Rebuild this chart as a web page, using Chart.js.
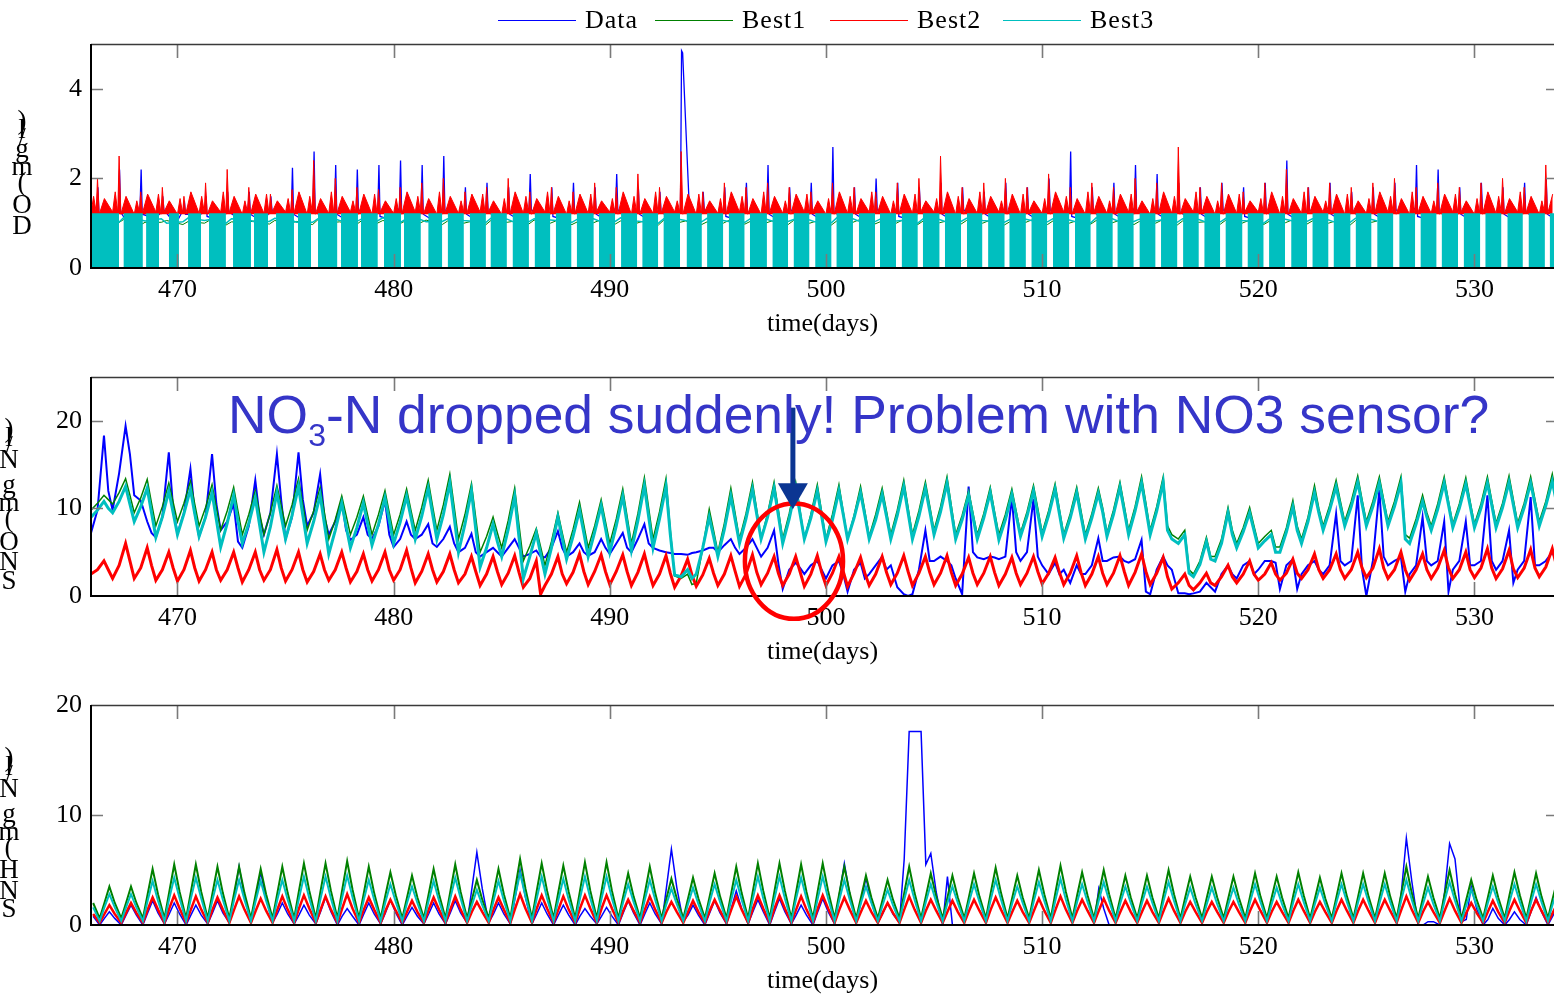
<!DOCTYPE html>
<html>
<head>
<meta charset="utf-8">
<title>Sensor check: DO, SNO, SNH</title>
<script src="https://cdn.jsdelivr.net/npm/chart.js@4.4.1/dist/chart.umd.min.js"></script>
<style>
  html, body { margin: 0; padding: 0; background: #fff; }
  body { position: relative; width: 1554px; height: 995px; overflow: hidden; font-family: "Liberation Serif", serif; }
  canvas { position: absolute; left: 0; }
  #legend { position: absolute; left: 0; top: 0; width: 1554px; height: 40px; z-index: 2; }
  #legend .key { position: absolute; top: 6px; height: 28px; display: flex; align-items: center; font-size: 26px; letter-spacing: 1px; white-space: nowrap; color: #000; }
  #legend .key i { display: inline-block; width: 78px; height: 1px; margin-right: 9px; }
</style>
</head>
<body>
<canvas id="doChart" width="1554" height="337" style="top:0"></canvas>
<canvas id="snoChart" width="1554" height="328" style="top:337px"></canvas>
<canvas id="snhChart" width="1554" height="329" style="top:665px"></canvas>
<div id="legend"></div>
<script>
/* Three stacked panels: measured data vs. three best model fits.
 * Series are stored per day (first day 466) with a few samples each;
 * the offsets arrays say where in the day each sample sits. */

const FIRST_DAY = 466;
const X_MIN = 466;
const X_MAX = 533.68;
const X_TICKS = [470, 480, 490, 500, 510, 520, 530];
const DO_TICKS = [0, 2, 4];
const SNO_TICKS = [0, 10, 20];
const SNH_TICKS = [0, 10, 20];
const SERIES = ["Data", "Best1", "Best2", "Best3"];

// ---- DO (mg/l) ----
const DO_LEVEL_OFFSETS = [0.25, 0.5];
const DO_RED_OFFSETS = [0, 0.12, 0.24, 0.3, 0.38, 0.62];
const DO_BLUE_OFFSETS = [0.05, 0.27, 0.32, 0.37, 0.7];
const DO_SWITCH_LEVEL = 1.22;
const DO_SWITCH_ON = [466.0, 467.5, 468.55, 469.6, 470.49, 471.46, 472.57, 473.54, 474.56, 475.57, 476.5, 477.56, 478.49, 479.55, 480.48, 481.6,
  482.5, 483.52, 484.48, 485.5, 486.52, 487.5, 488.47, 489.5, 490.52, 491.5, 492.48, 493.55, 494.5, 495.5, 496.48, 497.52, 498.5,
  499.5, 500.48, 501.52, 502.5, 503.5, 504.48, 505.5, 506.52, 507.5, 508.48, 509.5, 510.5, 511.52, 512.5, 513.48, 514.5, 515.5,
  516.52, 517.5, 518.48, 519.5, 520.5, 521.52, 522.5, 523.48, 524.5, 525.5, 526.52, 527.5, 528.48, 529.5, 530.5, 531.52, 532.5, 533.48];
const DO_SWITCH_OFF = [467.3, 468.4, 469.15, 470.07, 471.09, 472.24, 473.4, 474.19, 475.39, 476.18, 477.4, 478.35, 479.27, 480.34, 481.26, 482.25,
  483.25, 484.27, 485.24, 486.26, 487.25, 488.23, 489.26, 490.25, 491.27, 492.24, 493.25, 494.26, 495.25, 496.24, 497.27, 498.25, 499.24,
  500.26, 501.25, 502.27, 503.24, 504.25, 505.26, 506.25, 507.24, 508.27, 509.25, 510.24, 511.26, 512.25, 513.27, 514.24, 515.25, 516.26,
  517.25, 518.24, 519.27, 520.25, 521.24, 522.26, 523.25, 524.27, 525.24, 526.25, 527.26, 528.25, 529.24, 530.27, 531.25, 532.24, 533.26, 533.7];
const DO_DATA = [
  1.1,1.3,1.8,1.2,1.1, 1.2,1.3,2.2,1.25,1.0, 1.1,1.35,2.2,1.2,1.15, 1.15,1.25,1.6,1.3,1.1,
  1.1,1.3,1.5,1.2,1.2, 1.2,1.25,1.6,1.15,1.1, 1.1,1.3,1.7,1.25,1.15, 1.15,1.35,1.7,1.2,1.1,
  1.1,1.25,1.6,1.3,1.2, 1.2,1.3,2.24,1.2,1.1, 1.1,1.35,2.6,1.25,1.15, 1.15,1.3,2.3,1.2,1.1,
  1.1,1.25,2.2,1.3,1.2, 1.2,1.3,2.3,1.15,1.1, 1.1,1.35,2.4,1.25,1.15, 1.15,1.3,2.3,1.2,1.1,
  1.1,1.3,2.5,1.3,1.2, 1.2,1.25,1.8,1.2,1.1, 1.1,1.3,1.9,1.25,1.15, 1.15,1.3,1.8,1.2,1.1,
  1.1,1.35,2.1,1.3,1.2, 1.2,1.25,1.8,1.15,1.1, 1.1,1.3,1.9,1.25,1.15, 1.15,1.3,1.8,1.2,1.1,
  1.1,1.35,2.1,1.3,1.2, 1.2,1.25,1.8,1.2,1.1, 1.1,1.3,1.7,1.25,1.15, 1.15,1.3,4.85,4.8,1.1,
  1.1,1.25,1.7,1.3,1.2, 1.2,1.3,1.8,1.15,1.1, 1.1,1.3,1.9,1.25,1.15, 1.15,1.35,2.3,1.2,1.1,
  1.1,1.25,1.8,1.3,1.2, 1.2,1.3,1.9,1.2,1.1, 1.1,1.35,2.7,1.25,1.15, 1.15,1.3,1.8,1.2,1.1,
  1.1,1.3,2.0,1.3,1.2, 1.2,1.25,1.9,1.15,1.1, 1.1,1.3,1.8,1.25,1.15, 1.15,1.3,1.9,1.2,1.1,
  1.1,1.25,1.8,1.3,1.2, 1.2,1.3,1.7,1.2,1.1, 1.1,1.3,1.9,1.25,1.15, 1.15,1.25,1.8,1.2,1.1,
  1.1,1.35,2.0,1.3,1.2, 1.2,1.35,2.6,1.15,1.1, 1.1,1.3,1.8,1.25,1.15, 1.15,1.3,1.9,1.2,1.1,
  1.1,1.35,2.3,1.3,1.2, 1.2,1.3,2.1,1.2,1.1, 1.1,1.3,1.9,1.25,1.15, 1.15,1.25,1.8,1.2,1.1,
  1.1,1.3,1.9,1.3,1.2, 1.2,1.25,1.8,1.15,1.1, 1.1,1.3,1.9,1.25,1.15, 1.15,1.35,2.4,1.2,1.1,
  1.1,1.3,1.8,1.3,1.2, 1.2,1.3,1.9,1.2,1.1, 1.1,1.25,1.7,1.25,1.15, 1.15,1.3,1.8,1.2,1.1,
  1.1,1.3,1.9,1.3,1.2, 1.2,1.35,2.3,1.15,1.1, 1.1,1.35,2.2,1.25,1.15, 1.15,1.3,1.8,1.2,1.1,
  1.1,1.3,1.9,1.3,1.2, 1.2,1.25,1.8,1.2,1.1, 1.1,1.3,1.9,1.25,1.15, 1.15,1.3,2.0,1.2,1.1];
const DO_BEST1 = [
  0.98,1.05, 1.0,1.08, 0.95,1.02, 1.02,1.06, 0.97,1.04, 1.0,1.07, 0.96,1.03, 1.01,1.05,
  0.98,1.06, 1.0,1.04, 0.97,1.08, 1.02,1.03, 0.96,1.05, 1.0,1.06, 0.98,1.04, 1.01,1.07,
  0.97,1.05, 1.0,1.03, 0.96,1.06, 1.02,1.04, 0.98,1.07, 1.0,1.05, 0.97,1.03, 1.01,1.06,
  0.98,1.05, 1.0,1.04, 0.96,1.07, 1.02,1.05, 0.97,1.03, 1.0,1.06, 0.98,1.04, 1.01,1.05,
  0.97,1.06, 1.0,1.04, 0.96,1.05, 1.02,1.07, 0.98,1.03, 1.0,1.06, 0.97,1.05, 1.01,1.04,
  0.98,1.06, 1.0,1.05, 0.96,1.03, 1.02,1.07, 0.97,1.05, 1.0,1.04, 0.98,1.06, 1.01,1.05,
  0.97,1.04, 1.0,1.06, 0.96,1.05, 1.02,1.03, 0.98,1.07, 1.0,1.05, 0.97,1.04, 1.01,1.06,
  0.98,1.05, 1.0,1.04, 0.96,1.06, 1.02,1.05];
const DO_BEST2 = [
  1.22,1.6,1.25,2.0,1.2,1.55, 1.25,1.7,1.22,2.5,1.2,1.6, 1.2,1.5,1.25,1.7,1.22,1.65, 1.25,1.65,1.2,1.8,1.25,1.5,
  1.2,1.55,1.22,1.6,1.2,1.7, 1.22,1.6,1.25,1.9,1.2,1.5, 1.25,1.7,1.2,2.2,1.22,1.6, 1.2,1.5,1.25,1.8,1.2,1.65,
  1.22,1.65,1.2,1.65,1.25,1.5, 1.25,1.55,1.22,1.75,1.2,1.7, 1.2,1.6,1.25,2.4,1.2,1.55, 1.22,1.7,1.2,2.0,1.22,1.6,
  1.25,1.5,1.25,1.8,1.2,1.65, 1.2,1.65,1.2,1.75,1.25,1.5, 1.22,1.55,1.22,1.8,1.2,1.7, 1.25,1.6,1.25,1.9,1.2,1.55,
  1.2,1.7,1.2,2.0,1.22,1.6, 1.22,1.5,1.25,1.7,1.2,1.65, 1.25,1.65,1.2,1.8,1.25,1.5, 1.2,1.55,1.22,2.0,1.2,1.7,
  1.22,1.6,1.25,1.7,1.2,1.55, 1.25,1.7,1.2,1.8,1.22,1.6, 1.2,1.5,1.25,1.7,1.2,1.65, 1.22,1.65,1.2,1.9,1.25,1.5,
  1.25,1.55,1.22,1.8,1.2,1.7, 1.2,1.6,1.25,2.1,1.2,1.55, 1.22,1.7,1.2,1.8,1.22,1.6, 1.25,1.5,1.25,2.6,1.2,1.65,
  1.2,1.65,1.2,1.7,1.25,1.5, 1.22,1.55,1.22,1.9,1.2,1.7, 1.25,1.6,1.25,1.8,1.2,1.55, 1.2,1.7,1.2,1.9,1.22,1.6,
  1.22,1.5,1.25,1.8,1.2,1.65, 1.25,1.65,1.2,1.7,1.25,1.5, 1.2,1.55,1.22,1.9,1.2,1.7, 1.22,1.6,1.25,1.8,1.2,1.55,
  1.25,1.7,1.2,1.7,1.22,1.6, 1.2,1.5,1.25,1.9,1.2,1.65, 1.22,1.65,1.2,2.0,1.25,1.5, 1.25,1.55,1.22,2.5,1.2,1.7,
  1.2,1.6,1.25,1.8,1.2,1.55, 1.22,1.7,1.2,1.9,1.22,1.6, 1.25,1.5,1.25,2.0,1.2,1.65, 1.2,1.65,1.2,1.8,1.25,1.5,
  1.22,1.55,1.22,2.1,1.2,1.7, 1.25,1.6,1.25,1.8,1.2,1.55, 1.2,1.7,1.2,1.9,1.22,1.6, 1.22,1.5,1.25,1.8,1.2,1.65,
  1.25,1.65,1.2,2.0,1.25,1.5, 1.2,1.55,1.22,1.9,1.2,1.7, 1.22,1.6,1.25,2.7,1.2,1.55, 1.25,1.7,1.2,1.8,1.22,1.6,
  1.2,1.5,1.25,1.9,1.2,1.65, 1.22,1.65,1.2,1.7,1.25,1.5, 1.25,1.55,1.22,1.9,1.2,1.7, 1.2,1.6,1.25,2.2,1.2,1.55,
  1.22,1.7,1.2,1.8,1.22,1.6, 1.25,1.5,1.25,1.9,1.2,1.65, 1.2,1.65,1.2,1.8,1.25,1.5, 1.22,1.55,1.22,1.9,1.2,1.7,
  1.25,1.6,1.25,2.0,1.2,1.55, 1.2,1.7,1.2,1.8,1.22,1.6, 1.22,1.5,1.25,1.9,1.2,1.65, 1.25,1.65,1.2,1.8,1.25,1.5,
  1.2,1.55,1.22,1.9,1.2,1.7, 1.22,1.6,1.25,2.0,1.2,1.55, 1.25,1.7,1.2,1.8,1.22,1.6, 1.2,1.5,1.25,2.3,1.2,1.65];
const DO_BEST3 = [
  1.05,1.1, 1.0,1.12, 1.08,1.05, 1.1,1.0, 1.03,1.12, 1.06,1.08, 1.0,1.1, 1.09,1.04,
  1.04,1.11, 1.07,1.02, 1.02,1.1, 1.1,1.06, 1.03,1.09, 1.05,1.12, 1.0,1.07, 1.08,1.03,
  1.04,1.1, 1.06,1.05, 1.01,1.11, 1.09,1.04, 1.03,1.1, 1.07,1.06, 1.02,1.09, 1.1,1.05,
  1.04,1.12, 1.05,1.03, 1.0,1.1, 1.08,1.06, 1.03,1.11, 1.06,1.04, 1.02,1.1, 1.09,1.05,
  1.04,1.08, 1.07,1.03, 1.01,1.12, 1.1,1.05, 1.03,1.09, 1.05,1.06, 1.0,1.1, 1.08,1.04,
  1.04,1.11, 1.06,1.05, 1.02,1.08, 1.09,1.06, 1.03,1.1, 1.07,1.04, 1.01,1.12, 1.1,1.05,
  1.04,1.09, 1.05,1.07, 1.02,1.1, 1.08,1.04, 1.03,1.11, 1.06,1.05, 1.0,1.09, 1.09,1.06,
  1.04,1.1, 1.07,1.03, 1.02,1.11, 1.08,1.05];

// ---- SNO (mg N/l) ----
const SNO_OFFSETS = [0, 0.3, 0.6, 0.8];
const SNO_DATA = [
  7.2,9.8,18.3,12.0, 9.8,14.0,19.4,16.2, 11.5,10.9,8.5,7.2, 6.7,9.0,16.4,10.0,
  7.1,9.5,14.5,9.5, 6.8,9.0,16.2,10.5, 7.5,8.5,10.5,6.2, 5.5,8.0,13.2,9.0,
  7.0,9.5,16.2,10.9, 6.5,9.0,16.4,11.0, 8.0,9.5,13.9,9.0, 7.0,8.5,10.9,7.5,
  6.4,7.0,9.0,7.0, 6.5,8.0,10.9,7.0, 5.6,6.5,8.5,7.0, 6.5,7.0,8.2,6.0,
  5.6,6.5,7.9,6.0, 5.0,5.5,7.1,5.0, 4.5,5.0,5.5,5.0, 4.5,5.5,6.5,5.5,
  4.5,4.8,5.2,4.5, 4.4,5.5,7.4,5.5, 4.5,5.0,6.0,5.0, 4.6,5.0,6.5,5.5,
  4.8,6.0,7.2,5.5, 5.0,6.5,8.2,6.0, 5.5,5.2,5.0,4.9, 4.8,4.8,4.7,4.9,
  5.0,5.2,5.5,5.5, 5.0,5.8,6.5,5.5, 4.8,5.5,6.5,5.5, 4.5,5.5,7.5,3.7,
  0.8,3.0,3.8,3.2, 2.5,3.5,4.0,3.0, 2.0,3.5,4.0,2.5, 0.5,3.0,3.8,2.0,
  2.5,3.5,4.5,3.0, 3.5,1.0,0.2,0.0, 0.2,3.0,7.5,4.0, 4.0,4.5,4.0,3.5,
  2.0,0.2,12.5,5.0, 4.4,4.2,4.5,4.4, 4.2,4.5,11.3,5.0, 4.0,5.0,11.1,4.5,
  3.5,2.5,3.8,2.5, 3.0,1.5,3.5,2.5, 2.5,3.5,6.6,4.0, 4.0,4.4,4.5,4.0,
  3.8,4.2,6.4,0.5, 0.2,3.0,4.5,3.5, 3.0,0.3,0.3,0.2, 0.3,0.5,1.5,1.0,
  0.5,2.5,3.5,2.5, 2.0,3.5,4.0,2.5, 3.0,4.0,4.0,3.8, 0.8,3.5,4.2,0.8,
  2.5,3.5,4.0,3.0, 2.5,3.5,9.4,4.0, 3.5,4.0,11.5,3.0, 0.0,4.0,12.1,4.5,
  3.5,4.0,4.4,0.5, 2.5,3.5,9.0,4.0, 3.5,4.0,8.5,0.5, 3.0,4.0,8.5,3.5,
  3.5,4.0,11.5,4.0, 3.0,4.0,7.5,1.5, 3.0,4.0,11.3,3.5, 3.5,4.0,5.0,4.0];
const SNO_BEST1 = [
  9.8,10.6,11.5,11.0, 10.5,11.8,13.4,11.5, 9.5,11.2,13.3,10.6, 8.0,10.2,12.9,10.7,
  8.5,10.6,13.1,10.5, 8.0,10.1,12.7,10.1, 7.5,9.7,12.4,9.7, 7.0,9.3,12.0,9.5,
  7.0,9.5,12.6,10.3, 8.0,10.4,13.4,10.4, 7.5,9.7,12.4,9.5, 6.5,8.7,11.4,9.2,
  7.0,9.0,11.4,9.2, 7.0,9.3,12.0,9.5, 7.0,9.3,12.2,9.8, 7.5,10.1,13.2,10.3,
  7.5,10.4,13.9,10.2, 6.5,9.3,12.8,8.9, 5.0,6.8,9.0,7.2, 5.5,8.6,12.3,8.1,
  4.0,5.7,7.7,5.6, 3.5,6.2,9.5,7.2, 5.0,7.6,10.7,8.1, 5.5,8.0,11.0,8.5,
  6.0,8.8,12.2,9.1, 6.0,9.4,13.5,10.0, 6.5,9.6,13.4,7.5, 2.3,2.0,2.5,1.3,
  1.5,5.5,9.9,7.5, 5.0,8.3,12.3,9.4, 6.5,9.4,13.0,9.8, 6.5,9.4,13.0,9.8,
  6.5,9.4,13.0,9.8, 6.5,9.3,12.7,9.6, 6.5,9.3,12.7,9.6, 6.5,9.2,12.5,9.7,
  6.8,9.3,12.3,9.7, 7.0,9.8,13.2,10.1, 7.0,9.7,13.0,10.3, 7.5,10.2,13.6,10.3,
  7.0,9.2,12.0,9.5, 7.0,9.4,12.4,9.6, 7.0,9.3,12.2,9.7, 7.2,9.6,12.6,10.0,
  7.2,9.7,12.8,9.9, 7.0,9.4,12.4,9.7, 7.0,9.4,12.3,10.1, 7.2,9.8,13.0,10.3,
  7.5,10.2,13.6,10.6, 7.5,10.2,13.6,8.0, 7.0,6.5,7.5,3.0, 2.5,4.0,6.7,4.5,
  4.5,6.5,10.1,7.5, 6.0,7.8,10.1,8.0, 6.0,6.8,7.5,5.6, 5.6,7.8,10.9,8.0,
  6.5,9.0,12.6,10.0, 8.0,10.3,13.2,10.8, 8.5,10.8,13.7,11.0, 8.5,10.8,13.6,11.0,
  8.5,10.8,13.6,7.0, 6.6,8.8,11.5,9.5, 8.0,10.5,13.6,10.8, 8.2,10.5,13.5,10.8,
  8.2,10.5,13.6,10.9, 8.3,10.6,13.7,11.0, 8.3,10.6,13.6,11.0, 8.5,10.8,13.9,11.2];
const SNO_BEST2 = [
  2.5,3.0,4.0,3.0, 2.0,3.5,6.0,4.0, 2.0,3.2,5.5,3.5, 1.8,3.0,5.0,3.2,
  1.7,3.0,5.2,3.2, 1.7,3.0,5.0,3.0, 1.8,3.0,5.0,3.2, 1.6,3.0,5.0,3.0,
  1.8,3.0,5.3,3.2, 1.7,3.0,5.0,3.0, 1.6,2.8,4.8,3.0, 1.8,3.0,5.0,3.2,
  1.6,2.8,4.8,3.0, 1.7,3.0,5.0,3.0, 1.8,3.0,5.2,3.2, 1.5,2.8,4.8,3.0,
  1.6,2.8,4.8,3.0, 1.5,2.5,4.5,2.8, 1.2,2.5,4.5,2.8, 1.3,2.6,4.6,2.7,
  1.0,2.0,4.0,0.2, 1.2,2.5,4.5,2.5, 1.4,2.7,4.8,2.8, 1.3,2.8,4.7,2.8,
  1.3,2.8,4.7,2.8, 1.2,2.7,4.8,2.8, 1.2,2.5,4.6,2.6, 1.0,2.3,4.2,2.4,
  1.1,2.4,4.3,2.6, 1.2,2.5,4.6,2.8, 1.1,2.5,4.7,2.7, 1.3,2.6,4.5,2.6,
  1.2,2.5,4.5,2.8, 1.1,2.5,4.6,2.7, 1.2,2.6,4.5,2.8, 1.1,2.6,4.4,2.6,
  1.2,2.5,4.5,2.7, 1.3,2.6,4.6,2.8, 1.2,2.6,4.5,2.7, 1.3,2.6,4.6,2.7,
  1.2,2.5,4.4,2.6, 1.3,2.6,4.5,2.7, 1.2,2.5,4.4,2.6, 1.3,2.6,4.5,2.8,
  1.4,2.6,4.4,2.7, 1.3,2.6,4.6,2.7, 1.2,2.5,4.5,2.6, 1.3,2.6,4.6,2.8,
  1.2,2.7,4.8,2.8, 1.3,2.6,4.4,2.2, 0.8,1.5,2.5,1.2, 0.7,1.5,2.6,1.5,
  1.2,2.2,3.5,2.2, 1.5,2.5,4.0,2.5, 1.8,2.5,3.8,2.5, 1.8,2.6,4.2,2.6,
  2.0,3.0,4.8,3.0, 2.0,3.0,4.8,3.0, 2.0,3.0,5.0,3.2, 2.1,3.2,5.4,3.2,
  2.0,3.0,5.0,3.0, 1.8,3.0,4.8,3.0, 2.0,3.2,5.2,3.2, 2.0,3.0,5.0,3.0,
  2.1,3.2,5.4,3.2, 2.0,3.1,5.2,3.1, 2.1,3.2,5.3,3.2, 2.2,3.3,5.4,3.4];
const SNO_BEST3 = [
  9.0,9.8,10.8,10.0, 9.5,10.8,12.5,10.5, 8.5,10.2,12.3,9.5, 6.7,9.0,12.0,9.5,
  7.0,9.4,12.2,9.4, 6.8,9.0,11.8,8.7, 5.6,8.3,11.5,8.5, 6.0,8.3,11.2,8.1,
  5.0,7.9,11.8,9.1, 6.5,9.2,12.5,9.2, 6.0,8.5,11.5,8.2, 4.8,7.5,10.6,8.0,
  5.5,7.8,10.6,8.2, 5.8,8.2,11.2,8.6, 6.0,8.4,11.4,9.0, 6.5,9.1,12.3,9.4,
  6.5,9.3,12.9,9.0, 5.0,8.2,12.0,7.6, 3.3,5.5,8.2,6.2, 4.5,7.6,11.4,6.7,
  2.0,4.5,7.2,4.8, 2.5,5.5,9.0,6.6, 4.2,6.8,9.8,7.2, 4.5,7.3,10.3,7.7,
  5.0,8.0,11.4,8.3, 5.2,8.6,12.6,9.0, 5.5,8.8,12.5,7.0, 2.4,2.2,3.0,2.0,
  2.5,5.5,9.0,6.8, 4.5,7.6,11.4,8.7, 6.0,8.8,12.2,9.3, 6.5,9.0,12.3,9.2,
  6.0,8.8,12.3,9.4, 6.5,8.9,12.0,9.1, 6.2,8.7,12.0,9.3, 6.5,8.9,11.8,9.2,
  6.5,8.7,11.6,9.1, 6.5,9.2,12.5,9.5, 6.5,9.1,12.3,9.7, 7.0,9.6,12.9,9.7,
  6.5,8.7,11.5,9.0, 6.5,8.9,11.8,9.1, 6.4,8.7,11.6,9.2, 6.8,9.1,12.0,9.4,
  6.8,9.2,12.2,9.4, 6.6,8.9,11.8,9.1, 6.5,8.9,11.7,9.6, 6.8,9.3,12.4,9.7,
  7.0,9.7,12.9,10.0, 7.0,9.7,13.0,7.5, 6.5,6.0,7.0,2.6, 2.2,3.6,6.2,4.2,
  4.0,6.0,9.5,7.0, 5.5,7.3,9.5,7.5, 5.5,6.3,7.0,5.0, 5.0,7.3,10.2,7.5,
  6.0,8.5,11.8,9.5, 7.5,9.8,12.5,10.2, 8.0,10.2,13.0,10.5, 8.0,10.2,12.9,10.5,
  8.0,10.2,12.9,6.5, 6.0,8.2,10.8,9.0, 7.5,9.9,12.9,10.4, 7.8,10.0,12.8,10.3,
  7.8,10.0,12.9,10.4, 7.8,10.1,13.0,10.4, 7.8,10.1,12.9,10.5, 8.0,10.3,13.1,10.6];

// ---- SNH (mg N/l) ----
const SNH_OFFSETS = [0.1, 0.4, 0.62, 0.85];
const SNH_DATA = [
  0.8,0.0,0.6,1.2, 0.6,0.0,0.9,1.8, 0.9,0.0,1.1,2.2, 1.1,0.1,1.0,2.0,
  1.0,0.0,0.9,1.8, 0.9,0.1,1.1,2.2, 1.1,0.2,2.6,5.3, 2.6,0.3,2.4,4.8,
  2.4,0.2,1.0,2.0, 1.0,0.1,0.9,1.8, 0.9,0.1,1.2,2.5, 1.2,0.0,0.8,1.5,
  0.8,0.0,1.0,2.0, 1.0,0.1,1.1,2.3, 1.1,0.0,0.8,1.6, 0.8,0.1,1.0,2.0,
  1.0,0.1,1.1,2.2, 1.1,0.2,3.3,6.6, 3.3,0.2,1.0,2.0, 1.0,0.1,2.5,5.0,
  2.5,0.1,1.0,2.0, 1.0,0.0,0.9,1.8, 0.9,0.0,0.8,1.5, 0.8,0.1,0.8,1.6,
  0.8,0.0,1.1,2.2, 1.1,0.0,1.0,2.0, 1.0,0.1,3.4,6.9, 3.4,0.3,0.9,1.8,
  0.9,0.0,1.1,2.2, 1.1,0.1,1.5,3.1, 1.5,0.1,1.2,2.3, 1.2,0.0,1.2,2.4,
  1.2,0.1,0.9,1.8, 0.9,0.0,1.2,2.4, 1.2,0.1,2.8,5.6, 2.8,0.2,2.1,4.3,
  2.1,0.2,1.0,2.0, 1.0,0.2,6.0,17.6, 17.6,17.6,5.5,6.5, 3.0,0.0,4.4,0.0,
  0.0,0.0,0.0,0.0, 0.0,0.0,0.0,0.0, 0.0,0.0,0.0,0.0, 0.0,0.0,0.0,0.0,
  0.0,0.0,0.0,0.0, 0.0,0.0,0.0,0.0, 0.0,0.0,3.3,1.5, 0.0,0.0,0.0,0.0,
  0.0,0.0,0.0,0.0, 0.0,0.0,0.0,0.0, 0.0,0.0,0.0,0.0, 0.0,0.0,0.0,0.0,
  0.0,0.0,0.0,0.0, 0.0,0.0,0.0,0.0, 0.0,0.0,0.0,0.0, 0.0,0.0,0.0,0.0,
  0.0,0.0,0.0,0.0, 0.0,0.0,0.0,0.0, 0.0,0.0,0.0,0.0, 0.0,0.0,0.0,0.0,
  0.0,0.0,3.0,7.9, 4.0,0.0,0.0,0.3, 0.3,0.0,3.0,7.4, 6.0,0.3,0.5,3.5,
  1.5,0.0,0.5,1.5, 0.6,0.0,0.5,1.2, 0.5,0.0,1.2,2.5, 1.2,0.0,0.8,1.8];
const SNH_BEST1 = [
  2.0,0.6,2.0,3.5, 2.0,0.6,2.0,3.5, 2.0,0.6,2.8,5.1, 2.8,0.6,3.0,5.5,
  3.0,0.6,3.0,5.5, 3.0,0.6,2.9,5.3, 2.9,0.6,2.9,5.3, 2.9,0.6,2.8,5.1,
  2.8,0.6,2.9,5.3, 2.9,0.6,3.1,5.6, 3.1,0.6,3.1,5.6, 3.1,0.6,3.2,5.8,
  3.2,0.6,2.9,5.3, 2.9,0.6,2.7,4.8, 2.7,0.6,2.5,4.5, 2.5,0.6,2.8,5.1,
  2.8,0.6,3.0,5.5, 3.0,0.6,2.3,4.1, 2.3,0.6,2.8,5.1, 2.8,0.6,3.3,6.0,
  3.3,0.6,3.1,5.6, 3.1,0.6,3.0,5.4, 3.0,0.6,3.1,5.7, 3.1,0.6,3.1,5.7,
  3.1,0.6,2.6,4.7, 2.6,0.6,2.9,5.3, 2.9,0.6,2.4,4.2, 2.4,0.6,2.4,4.3,
  2.4,0.6,2.6,4.7, 2.6,0.6,2.9,5.3, 2.9,0.6,3.1,5.6, 3.1,0.6,3.1,5.6,
  3.1,0.6,3.0,5.5, 3.0,0.6,3.1,5.6, 3.1,0.6,2.9,5.3, 2.9,0.6,2.5,4.5,
  2.5,0.6,2.3,4.1, 2.3,0.6,2.9,5.3, 2.9,0.6,2.6,4.7, 2.6,0.6,2.5,4.5,
  2.5,0.6,2.6,4.7, 2.6,0.6,2.9,5.2, 2.9,0.6,2.5,4.5, 2.5,0.6,2.8,5.0,
  2.8,0.6,3.0,5.4, 3.0,0.6,2.7,4.8, 2.7,0.6,2.8,5.0, 2.8,0.6,2.5,4.5,
  2.5,0.6,2.5,4.5, 2.5,0.6,2.8,5.0, 2.8,0.6,2.5,4.4, 2.5,0.6,2.5,4.4,
  2.5,0.6,2.5,4.4, 2.5,0.6,2.6,4.7, 2.6,0.6,2.5,4.4, 2.5,0.6,2.7,4.8,
  2.7,0.6,2.4,4.3, 2.4,0.6,2.6,4.7, 2.6,0.6,2.6,4.7, 2.6,0.6,2.6,4.7,
  2.6,0.6,2.9,5.3, 2.9,0.6,2.5,4.4, 2.5,0.6,2.8,5.0, 2.8,0.6,2.3,4.1,
  2.3,0.6,2.5,4.5, 2.5,0.6,2.7,4.8, 2.7,0.6,2.6,4.7, 2.6,0.6,2.4,4.2];
const SNH_BEST2 = [
  1.0,0.2,1.0,1.8, 1.0,0.2,1.1,2.0, 1.1,0.2,1.4,2.5, 1.4,0.2,1.5,2.7,
  1.5,0.2,1.4,2.6, 1.4,0.2,1.4,2.5, 1.4,0.2,1.4,2.6, 1.4,0.2,1.3,2.4,
  1.3,0.2,1.4,2.6, 1.4,0.2,1.5,2.7, 1.5,0.2,1.4,2.6, 1.4,0.2,1.5,2.8,
  1.5,0.2,1.4,2.5, 1.4,0.2,1.3,2.3, 1.3,0.2,1.2,2.2, 1.2,0.2,1.4,2.5,
  1.4,0.2,1.4,2.6, 1.4,0.2,1.2,2.1, 1.2,0.2,1.4,2.5, 1.4,0.2,1.5,2.8,
  1.5,0.2,1.5,2.7, 1.5,0.2,1.4,2.6, 1.4,0.2,1.5,2.7, 1.5,0.2,1.5,2.7,
  1.5,0.2,1.3,2.3, 1.3,0.2,1.4,2.6, 1.4,0.2,1.2,2.1, 1.2,0.2,1.2,2.2,
  1.2,0.2,1.3,2.3, 1.3,0.2,1.4,2.6, 1.4,0.2,1.5,2.7, 1.5,0.2,1.5,2.7,
  1.5,0.2,1.4,2.6, 1.4,0.2,1.5,2.7, 1.5,0.2,1.4,2.5, 1.4,0.2,1.2,2.2,
  1.2,0.2,1.1,2.0, 1.1,0.2,1.4,2.6, 1.4,0.2,1.3,2.3, 1.3,0.2,1.2,2.2,
  1.2,0.2,1.3,2.3, 1.3,0.2,1.4,2.5, 1.4,0.2,1.2,2.2, 1.2,0.2,1.3,2.4,
  1.3,0.2,1.4,2.6, 1.4,0.2,1.3,2.3, 1.3,0.2,1.3,2.4, 1.3,0.2,1.2,2.2,
  1.2,0.2,1.2,2.2, 1.2,0.2,1.3,2.4, 1.3,0.2,1.2,2.1, 1.2,0.2,1.2,2.1,
  1.2,0.2,1.2,2.1, 1.2,0.2,1.3,2.3, 1.3,0.2,1.2,2.1, 1.2,0.2,1.3,2.3,
  1.3,0.2,1.2,2.1, 1.2,0.2,1.3,2.3, 1.3,0.2,1.3,2.3, 1.3,0.2,1.3,2.3,
  1.3,0.2,1.4,2.6, 1.4,0.2,1.2,2.1, 1.2,0.2,1.3,2.4, 1.3,0.2,1.1,2.0,
  1.1,0.2,1.2,2.2, 1.2,0.2,1.3,2.3, 1.3,0.2,1.3,2.3, 1.3,0.2,1.1,2.0];
const SNH_BEST3 = [
  1.6,0.35,1.6,2.8, 1.6,0.35,1.6,2.8, 1.6,0.35,2.2,4.0, 2.2,0.35,2.4,4.3,
  2.4,0.35,2.4,4.3, 2.4,0.35,2.3,4.1, 2.3,0.35,2.3,4.1, 2.3,0.35,2.2,4.0,
  2.2,0.35,2.3,4.1, 2.3,0.35,2.4,4.4, 2.4,0.35,2.4,4.4, 2.4,0.35,2.5,4.5,
  2.5,0.35,2.3,4.1, 2.3,0.35,2.1,3.7, 2.1,0.35,2.0,3.5, 2.0,0.35,2.2,4.0,
  2.2,0.35,2.4,4.3, 2.4,0.35,1.8,3.2, 1.8,0.35,2.2,4.0, 2.2,0.35,2.6,4.7,
  2.6,0.35,2.4,4.4, 2.4,0.35,2.3,4.2, 2.3,0.35,2.4,4.4, 2.4,0.35,2.4,4.4,
  2.4,0.35,2.1,3.7, 2.1,0.35,2.3,4.1, 2.3,0.35,1.9,3.3, 1.9,0.35,1.9,3.4,
  1.9,0.35,2.1,3.7, 2.1,0.35,2.3,4.1, 2.3,0.35,2.4,4.4, 2.4,0.35,2.4,4.4,
  2.4,0.35,2.4,4.3, 2.4,0.35,2.4,4.4, 2.4,0.35,2.3,4.1, 2.3,0.35,2.0,3.5,
  2.0,0.35,1.8,3.2, 1.8,0.35,2.3,4.1, 2.3,0.35,2.1,3.7, 2.1,0.35,2.0,3.5,
  2.0,0.35,2.1,3.7, 2.1,0.35,2.3,4.1, 2.3,0.35,2.0,3.5, 2.0,0.35,2.2,3.9,
  2.2,0.35,2.3,4.2, 2.3,0.35,2.1,3.7, 2.1,0.35,2.2,3.9, 2.2,0.35,2.0,3.5,
  2.0,0.35,2.0,3.5, 2.0,0.35,2.2,3.9, 2.2,0.35,1.9,3.4, 1.9,0.35,1.9,3.4,
  1.9,0.35,1.9,3.4, 1.9,0.35,2.1,3.7, 2.1,0.35,1.9,3.4, 1.9,0.35,2.1,3.7,
  2.1,0.35,1.9,3.4, 1.9,0.35,2.1,3.7, 2.1,0.35,2.1,3.7, 2.1,0.35,2.1,3.7,
  2.1,0.35,2.3,4.1, 2.3,0.35,1.9,3.4, 1.9,0.35,2.2,3.9, 2.2,0.35,1.8,3.2,
  1.8,0.35,2.0,3.5, 2.0,0.35,2.1,3.7, 2.1,0.35,2.1,3.7, 2.1,0.35,1.9,3.3];

// Annotation on the SNO panel, in data units (days, mg N/l).
const NOTE = { x: 472.34, y: 18.64, lead: "NO", sub: "3", rest: "-N dropped suddenly! Problem with NO3 sensor?" };
const ARROW = { x: 498.47, from: 21.5, to: 9.9 };
const RING = { x: 498.52, y: 3.98, rx: 2.27, ry: 6.59 };

// ---- styling ----
const COLORS = { Data: "#0000ff", Best1: "#008000", Best2: "#ff0000", Best3: "#00bfbf" };
const LEGEND_LEFT = [498, 655, 830, 1003];
const SERIF = "'Liberation Serif', 'Times New Roman', serif";
const TICK_FONT = { family: SERIF, size: 26, lineHeight: 1 };

Chart.defaults.font.family = SERIF;

function daily(values, offsets) {
  const n = offsets.length;
  return values.map((y, i) => ({ x: FIRST_DAY + Math.floor(i / n) + offsets[i % n], y }));
}

function switchBlocks() {
  const pts = [];
  DO_SWITCH_ON.forEach((on, i) => {
    const off = DO_SWITCH_OFF[i];
    pts.push({ x: on, y: DO_SWITCH_LEVEL }, { x: off, y: DO_SWITCH_LEVEL }, { x: off + 0.001, y: null });
  });
  return pts;
}

function line(name, data, order, extra) {
  return Object.assign({ label: name, data, borderColor: COLORS[name], backgroundColor: COLORS[name], borderWidth: 1, order, fill: false }, extra || {});
}

// Inward tick marks and the box, MATLAB style.
const axesFrame = {
  id: "axesFrame",
  afterDatasetsDraw(chart) {
    const { ctx, chartArea: a, scales: { x, y } } = chart;
    ctx.save();
    ctx.strokeStyle = "#7a7a7a";
    ctx.lineWidth = 1.6;
    ctx.beginPath();
    for (const t of x.ticks) {
      const px = Math.round(x.getPixelForValue(t.value)) + 0.5;
      ctx.moveTo(px, a.bottom); ctx.lineTo(px, a.bottom - 14);
      ctx.moveTo(px, a.top); ctx.lineTo(px, a.top + 14);
    }
    for (const t of y.ticks) {
      if (t.value === y.min || t.value === y.max) continue;
      const py = Math.round(y.getPixelForValue(t.value)) + 0.5;
      ctx.moveTo(a.left, py); ctx.lineTo(a.left + 12, py);
      ctx.moveTo(a.right, py); ctx.lineTo(a.right - 8, py);
    }
    ctx.stroke();
    ctx.strokeStyle = "#3a3a3a";
    ctx.lineWidth = 1.6;
    ctx.beginPath();
    ctx.moveTo(a.left, a.top + 0.5); ctx.lineTo(a.right, a.top + 0.5);
    ctx.stroke();
    ctx.strokeStyle = "#000";
    ctx.lineWidth = 2;
    ctx.beginPath();
    ctx.moveTo(a.left, a.top); ctx.lineTo(a.left, a.bottom); ctx.lineTo(a.right, a.bottom);
    ctx.stroke();
    ctx.restore();
  },
};

// The y labels come out as upright glyphs stacked bottom-to-top.
const stackedLabel = {
  id: "stackedLabel",
  afterDraw(chart, args, opts) {
    if (!opts.text) return;
    const { ctx, chartArea: a } = chart;
    ctx.save();
    ctx.font = "27px " + SERIF;
    ctx.fillStyle = "#000";
    ctx.textAlign = "center";
    ctx.textBaseline = "middle";
    const chars = [...opts.text];
    const widths = chars.map((c) => ctx.measureText(c).width * 1.06);
    const total = widths.reduce((s, w) => s + w, 0);
    let y = (a.top + a.bottom) / 2 + 21 + total / 2;
    chars.forEach((c, i) => {
      if (c !== " ") ctx.fillText(c, opts.x, y - widths[i] / 2);
      y -= widths[i];
    });
    ctx.restore();
  },
};

const sensorNote = {
  id: "sensorNote",
  afterDraw(chart) {
    const { ctx, scales: { x, y } } = chart;
    ctx.save();
    // red ring
    ctx.strokeStyle = "#ff0000";
    ctx.lineWidth = 4.5;
    const cx = x.getPixelForValue(RING.x);
    const cy = y.getPixelForValue(RING.y);
    const rx = x.getPixelForValue(RING.x + RING.rx) - cx;
    const ry = cy - y.getPixelForValue(RING.y + RING.ry);
    ctx.beginPath();
    ctx.ellipse(cx, cy, rx, ry, 0, 0, Math.PI * 2);
    ctx.stroke();
    // arrow
    const ax = x.getPixelForValue(ARROW.x);
    const ay0 = y.getPixelForValue(ARROW.from);
    const ay1 = y.getPixelForValue(ARROW.to);
    ctx.fillStyle = "#0b3592";
    ctx.fillRect(ax - 2.5, ay0, 5, ay1 - ay0 - 24);
    ctx.beginPath();
    ctx.moveTo(ax - 15, ay1 - 26);
    ctx.lineTo(ax + 15, ay1 - 26);
    ctx.lineTo(ax, ay1);
    ctx.closePath();
    ctx.fill();
    // text
    const size = 53.4;
    const sans = "'Liberation Sans', Arial, sans-serif";
    let tx = x.getPixelForValue(NOTE.x);
    const ty = y.getPixelForValue(NOTE.y);
    ctx.fillStyle = "#3535c8";
    ctx.textBaseline = "alphabetic";
    ctx.font = size + "px " + sans;
    ctx.fillText(NOTE.lead, tx, ty);
    tx += ctx.measureText(NOTE.lead).width;
    ctx.font = Math.round(size * 0.6) + "px " + sans;
    ctx.fillText(NOTE.sub, tx, ty + 13);
    tx += ctx.measureText(NOTE.sub).width;
    ctx.font = size + "px " + sans;
    ctx.fillText(NOTE.rest, tx, ty);
    ctx.restore();
  },
};

function panel(canvasId, cfg) {
  const canvas = document.getElementById(canvasId);
  return new Chart(canvas, {
    type: "line",
    data: { datasets: cfg.datasets },
    plugins: [axesFrame, stackedLabel].concat(cfg.extraPlugins || []),
    options: {
      responsive: false,
      animation: false,
      devicePixelRatio: 1,
      events: [],
      layout: { padding: { top: cfg.padTop, left: 0, right: 0, bottom: 0 } },
      elements: { point: { radius: 0 }, line: { tension: 0 } },
      plugins: {
        legend: { display: false },
        tooltip: { enabled: false },
        stackedLabel: { text: cfg.yTitle, x: cfg.yTitleX },
      },
      scales: {
        x: {
          type: "linear",
          min: X_MIN,
          max: X_MAX,
          grid: { display: false, drawTicks: false },
          border: { display: false },
          afterBuildTicks: (s) => { s.ticks = X_TICKS.map((v) => ({ value: v })); },
          afterFit: (s) => { s.height = cfg.xAxisHeight; },
          ticks: { font: TICK_FONT, color: "#000", padding: 9, maxRotation: 0, autoSkip: false },
          title: { display: true, text: "time(days)", font: TICK_FONT, color: "#000", padding: 0 },
        },
        y: {
          type: "linear",
          min: 0,
          max: cfg.yMax,
          grid: { display: false, drawTicks: false },
          border: { display: false },
          afterBuildTicks: (s) => { s.ticks = cfg.yTicks.map((v) => ({ value: v })); },
          afterFit: (s) => { s.width = 91; },
          ticks: { font: TICK_FONT, color: "#000", padding: 9 },
        },
      },
    },
  });
}

// DO panel: cyan blocks are the on/off switching of Best3 (drawn as its envelope).
panel("doChart", {
  padTop: 44, xAxisHeight: 69, yMax: 5, yTicks: DO_TICKS, yTitle: "DO (mg/l)", yTitleX: 22,
  datasets: [
    line("Data", daily(DO_DATA, DO_BLUE_OFFSETS), 4, { borderWidth: 1.3 }),
    line("Best1", daily(DO_BEST1, DO_LEVEL_OFFSETS), 3),
    line("Best2", daily(DO_BEST2, DO_RED_OFFSETS), 2, { fill: { value: 1.2 } }),
    line("Best3", daily(DO_BEST3, DO_LEVEL_OFFSETS), 1, { borderWidth: 1.5 }),
    line("Best3", switchBlocks(), 0, { borderWidth: 0, fill: "origin", spanGaps: false }),
  ],
});

panel("snoChart", {
  padTop: 40, xAxisHeight: 69, yMax: 25, yTicks: SNO_TICKS, yTitle: "SNO (mg N/l)", yTitleX: 9,
  extraPlugins: [sensorNote],
  datasets: [
    line("Data", daily(SNO_DATA, SNO_OFFSETS), 4, { borderWidth: 2 }),
    line("Best1", daily(SNO_BEST1, SNO_OFFSETS), 3, { borderWidth: 1.5 }),
    line("Best2", daily(SNO_BEST2, SNO_OFFSETS), 2, { borderWidth: 3 }),
    line("Best3", daily(SNO_BEST3, SNO_OFFSETS), 1, { borderWidth: 3 }),
  ],
});

panel("snhChart", {
  padTop: 40, xAxisHeight: 69, yMax: 20, yTicks: SNH_TICKS, yTitle: "SNH (mg N/l)", yTitleX: 9,
  datasets: [
    line("Data", daily(SNH_DATA, SNH_OFFSETS), 4, { borderWidth: 1.5 }),
    line("Best1", daily(SNH_BEST1, SNH_OFFSETS), 3, { borderWidth: 2 }),
    line("Best2", daily(SNH_BEST2, SNH_OFFSETS), 2, { borderWidth: 2.5 }),
    line("Best3", daily(SNH_BEST3, SNH_OFFSETS), 1, { borderWidth: 2 }),
  ],
});

// Legend across the top.
document.getElementById("legend").innerHTML = SERIES.map(
  (name, i) => `<span class="key" style="left:${LEGEND_LEFT[i]}px"><i style="background:${COLORS[name]}"></i>${name}</span>`
).join("");
</script>
</body>
</html>
